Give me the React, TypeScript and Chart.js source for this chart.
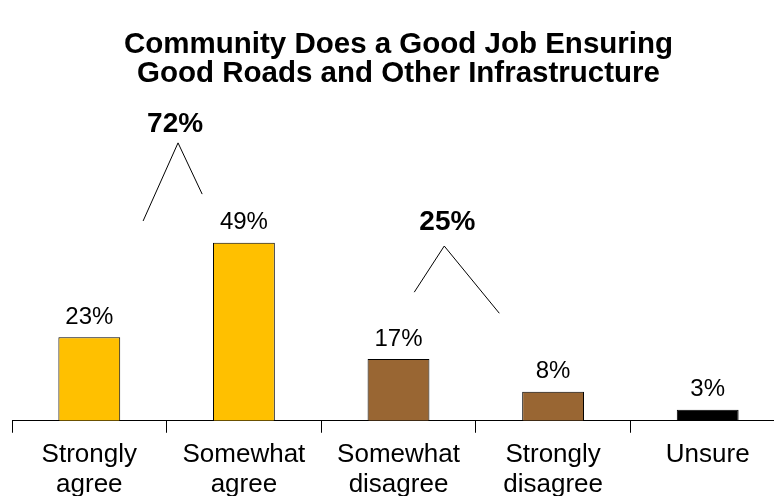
import React, { useEffect, useRef } from "react";
import { Chart, registerables } from "chart.js";

Chart.register(...registerables);

const categories: string[][] = [
  ["Strongly", "agree"],
  ["Somewhat", "agree"],
  ["Somewhat", "disagree"],
  ["Strongly", "disagree"],
  ["Unsure"],
];
const values = [23, 49, 17, 8, 3];
const valueLabels = ["23%", "49%", "17%", "8%", "3%"];
const barColors = ["#FFC000", "#FFC000", "#996633", "#996633", "#000000"];
const titleLines = [
  "Community Does a Good Job Ensuring",
  "Good Roads and Other Infrastructure",
];
// group totals: text anchor (category index, value) and bracket polyline points
const groupLabels = ["72%", "25%"];
const groupLabelX = [0.555, 2.316];
const groupLabelY = [81.5, 54.7];
const groupLinesX = [
  [0.348, 0.574, 0.73],
  [2.102, 2.296, 2.652],
];
const groupLinesY = [
  [55, 76.5, 62.4],
  [35.4, 48.1, 29.6],
];

const FONT = "'Liberation Sans', Arial, sans-serif";

const annotPlugin = {
  id: "annot",
  afterDatasetsDraw(chart: any) {
    const ctx = chart.ctx;
    const xs = chart.scales.x;
    const ys = chart.scales.y;
    const meta = chart.getDatasetMeta(0);
    ctx.save();
    ctx.fillStyle = "#000";
    ctx.textAlign = "center";
    ctx.textBaseline = "bottom";
    ctx.font = `24px ${FONT}`;
    meta.data.forEach((bar: any, i: number) => {
      ctx.fillText(valueLabels[i], bar.x, bar.y - 8);
    });
    ctx.font = `bold 28px ${FONT}`;
    ctx.textBaseline = "middle";
    groupLabels.forEach((t, g) => {
      ctx.fillText(t, xs.getPixelForValue(groupLabelX[g]), ys.getPixelForValue(groupLabelY[g]));
    });
    ctx.strokeStyle = "#000";
    ctx.lineWidth = 1;
    groupLinesX.forEach((lx, g) => {
      ctx.beginPath();
      lx.forEach((xv, k) => {
        const px = xs.getPixelForValue(xv);
        const py = ys.getPixelForValue(groupLinesY[g][k]);
        if (k === 0) ctx.moveTo(px, py);
        else ctx.lineTo(px, py);
      });
      ctx.stroke();
    });
    ctx.restore();
  },
};

export default function App() {
  const ref = useRef<HTMLCanvasElement>(null);
  useEffect(() => {
    document.body.style.margin = "0";
    document.body.style.overflow = "hidden";
    document.documentElement.style.overflow = "hidden";
    const chart = new Chart(ref.current!, {
      type: "bar",
      data: {
        labels: categories,
        datasets: [
          {
            data: values,
            backgroundColor: barColors,
            borderColor: "#000",
            borderWidth: 1,
            barPercentage: 0.4,
            categoryPercentage: 1,
          },
        ],
      },
      options: {
        animation: false,
        responsive: false,
        layout: { padding: { left: 12, right: 1, top: 0, bottom: 0 } },
        plugins: {
          legend: { display: false },
          tooltip: { enabled: false },
          title: {
            display: true,
            text: titleLines,
            color: "#000",
            font: { family: FONT, size: 29.5, weight: "bold", lineHeight: 1.0 },
            padding: { top: 30, bottom: 23 },
          },
        },
        scales: {
          x: {
            grid: {
              display: true,
              drawOnChartArea: false,
              drawTicks: true,
              tickLength: 12,
              color: "#000",
              offset: true,
            },
            border: { display: true, color: "#000", width: 1 },
            ticks: {
              color: "#000",
              font: { family: FONT, size: 26, lineHeight: 1.12 },
              padding: 8,
              maxRotation: 0,
              autoSkip: false,
            },
          },
          y: {
            display: false,
            min: 0,
            max: 85,
          },
        },
      },
      plugins: [annotPlugin],
    });
    return () => chart.destroy();
  }, []);
  return <canvas ref={ref} width={786} height={507} style={{ display: "block" }} />;
}
